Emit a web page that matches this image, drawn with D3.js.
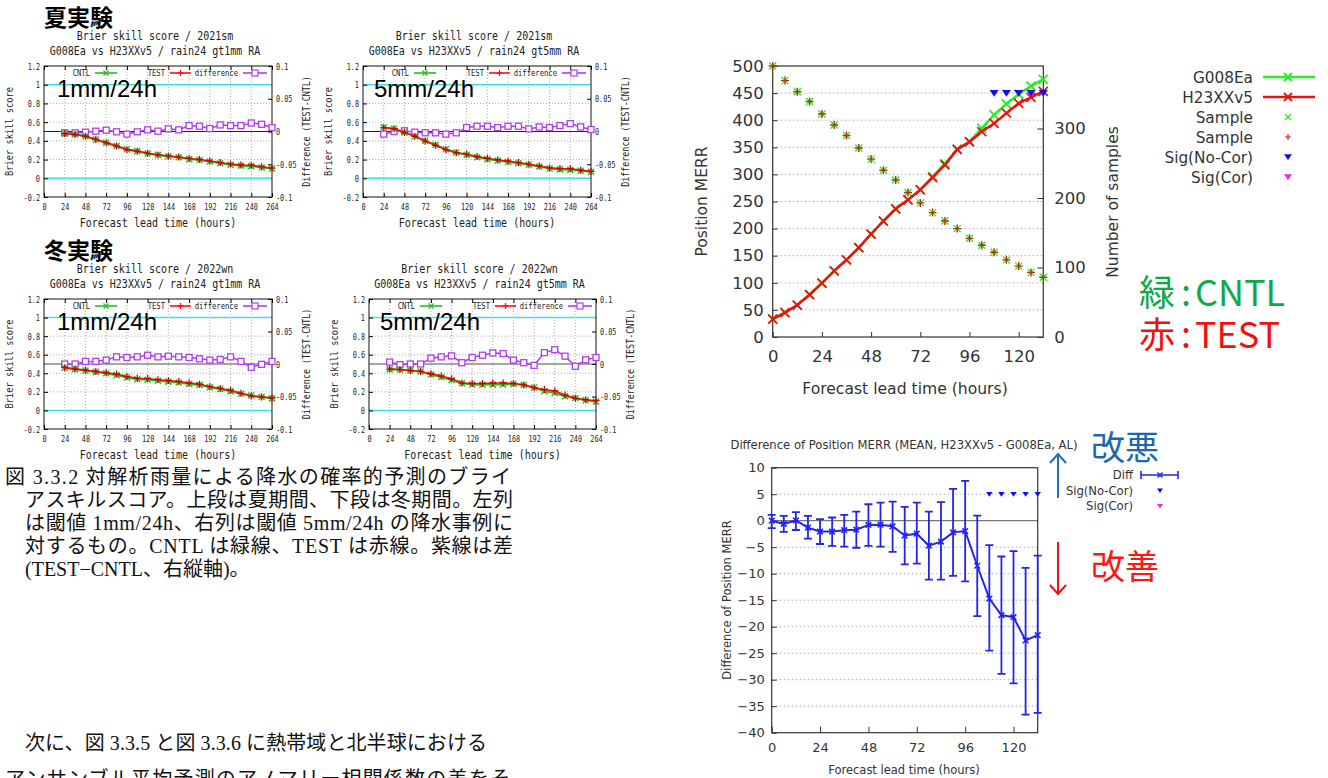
<!DOCTYPE html>
<html>
<head>
<meta charset="utf-8">
<script src="https://cdn.jsdelivr.net/npm/d3@7"></script>
<style>
  body { margin: 0; background: #fff; }
  svg { display: block; }
</style>
</head>
<body>
<svg id="fig" width="1328" height="778"></svg>
<script>
// ---------- data: Brier skill score panels ----------
const bssHours = [24, 36, 48, 60, 72, 84, 96, 108, 120, 132, 144, 156, 168, 180, 192, 204, 216, 228, 240, 252, 264];
const bssTicksX = [0, 24, 48, 72, 96, 120, 144, 168, 192, 216, 240, 264];
const bssTicksLeft = [-0.2, 0, 0.2, 0.4, 0.6, 0.8, 1, 1.2];
const bssTicksRight = [-0.1, -0.05, 0, 0.05, 0.1];

const sm1Cntl = [0.48, 0.47, 0.45, 0.415, 0.38, 0.345, 0.31, 0.29, 0.265, 0.25, 0.235, 0.225, 0.205, 0.195, 0.18, 0.16, 0.145, 0.135, 0.13, 0.115, 0.105];
const sm1Test = [0.478, 0.468, 0.449, 0.415, 0.38, 0.345, 0.306, 0.29, 0.267, 0.25, 0.239, 0.227, 0.212, 0.201, 0.184, 0.168, 0.152, 0.142, 0.14, 0.124, 0.109];
const sm1Diff = [-0.002, -0.002, -0.001, 0.0005, 0.002, -0.0005, -0.004, -0.0005, 0.0025, 0.0005, 0.004, 0.0025, 0.009, 0.008, 0.0045, 0.01, 0.009, 0.009, 0.013, 0.011, 0.006];

const sm5Cntl = [0.545, 0.53, 0.49, 0.45, 0.4, 0.355, 0.31, 0.275, 0.25, 0.225, 0.205, 0.19, 0.175, 0.16, 0.145, 0.125, 0.105, 0.095, 0.09, 0.08, 0.07];
const sm5Test = [0.541, 0.53, 0.491, 0.449, 0.398, 0.353, 0.306, 0.273, 0.256, 0.233, 0.213, 0.196, 0.183, 0.168, 0.149, 0.132, 0.111, 0.104, 0.102, 0.087, 0.073];
const sm5Diff = [-0.004, 0, 0.001, -0.001, -0.002, -0.002, -0.004, -0.002, 0.006, 0.008, 0.008, 0.006, 0.008, 0.008, 0.004, 0.007, 0.006, 0.009, 0.012, 0.007, 0.003];

const wn1Cntl = [0.46, 0.445, 0.43, 0.415, 0.4, 0.38, 0.355, 0.335, 0.33, 0.32, 0.31, 0.3, 0.285, 0.275, 0.25, 0.23, 0.205, 0.18, 0.16, 0.145, 0.13];
const wn1Test = [0.46, 0.445, 0.434, 0.419, 0.406, 0.391, 0.365, 0.346, 0.343, 0.331, 0.322, 0.311, 0.295, 0.283, 0.256, 0.237, 0.216, 0.184, 0.155, 0.145, 0.134];
const wn1Diff = [0, 0, 0.004, 0.004, 0.006, 0.011, 0.01, 0.011, 0.0135, 0.011, 0.012, 0.011, 0.01, 0.008, 0.006, 0.007, 0.011, 0.004, -0.005, -0.0005, 0.004];

const wn5Cntl = [0.442, 0.441, 0.43, 0.42, 0.386, 0.359, 0.328, 0.293, 0.28, 0.277, 0.278, 0.279, 0.284, 0.273, 0.247, 0.208, 0.188, 0.153, 0.134, 0.109, 0.095];
const wn5Test = [0.445, 0.44, 0.43, 0.42, 0.395, 0.37, 0.34, 0.295, 0.29, 0.29, 0.295, 0.295, 0.29, 0.275, 0.245, 0.225, 0.21, 0.165, 0.13, 0.115, 0.105];
const wn5Diff = [0.003, -0.001, 0, 0, 0.009, 0.011, 0.0125, 0.002, 0.01, 0.0135, 0.017, 0.016, 0.006, 0.002, -0.002, 0.0175, 0.022, 0.012, -0.0035, 0.0065, 0.01];

// ---------- data: typhoon track panels ----------
const trackHours = [0, 6, 12, 18, 24, 30, 36, 42, 48, 54, 60, 66, 72, 78, 84, 90, 96, 102, 108, 114, 120, 126, 132];
const trackTicksX = [0, 24, 48, 72, 96, 120];
const merrTicks = [0, 50, 100, 150, 200, 250, 300, 350, 400, 450, 500];
const sampleTicks = [0, 100, 200, 300];
const diffTicks = [-40, -35, -30, -25, -20, -15, -10, -5, 0, 5, 10];

const merrCntl = [33, 45, 59, 78, 99.5, 122, 142.5, 165, 190, 214, 236.5, 253, 272, 296, 320, 346, 360.5, 385, 410, 430, 448, 463, 475.5];
const merrTest = [33, 45, 59, 78, 99.5, 122, 142.5, 165, 190, 214, 236.5, 253, 271.5, 294, 317.5, 346, 360, 379, 394, 413, 431, 442, 453];
const sampleCount = [390, 369, 353, 339, 321, 305, 290, 272, 256, 240, 226, 208, 193, 179, 167, 156, 142, 132, 122, 111, 102, 93, 86];
const sigNoCorHours = [108, 114, 120, 126, 132];
const sigLevelMerr = 450;
const sigLevelDiff = 5;

const diffMean = [0, -0.6, 0.05, -1.3, -2.05, -2.05, -1.8, -1.7, -0.8, -0.75, -1.05, -2.8, -2.45, -4.7, -3.95, -2.2, -1.95, -8.5, -14.7, -17.8, -18.2, -22.6, -21.6];
const diffHigh = [1.1, 0.9, 1.6, 0.9, 0.3, 0.6, 1.1, 1.7, 3.1, 3.4, 3.6, 2.6, 3.4, 1.7, 3.5, 6.0, 7.5, 0.95, -4.6, -6.75, -5.75, -8.9, -6.6];
const diffLow = [-1.4, -2.1, -1.75, -3.4, -4.4, -4.75, -4.9, -5.1, -4.75, -4.9, -5.9, -8.25, -8.1, -11.1, -11.1, -10.4, -11.45, -18, -24.5, -28.9, -30.7, -36.6, -36.25];

const captionLines = [
  "図 3.3.2 対解析雨量による降水の確率的予測のブライ",
  "アスキルスコア。上段は夏期間、下段は冬期間。左列",
  "は閾値 1mm/24h、右列は閾値 5mm/24h の降水事例に",
  "対するもの。CNTL は緑線、TEST は赤線。紫線は差",
  "(TEST−CNTL、右縦軸)。"
];
const bodyLines = [
  "次に、図 3.3.5 と図 3.3.6 に熱帯域と北半球における",
  "アンサンブル平均予測のアノマリー相関係数の差をそ"
];

// ---------- helpers ----------
const svg = d3.select("#fig");
const GREEN_S = "#22c022", RED = "#ff1010", PURPLE = "#b03cf0", CYAN = "#40e0e0";
const MONO = "'DejaVu Sans Mono', monospace";
const SANS = "'DejaVu Sans', sans-serif";
const JP = "'Noto Sans CJK JP', sans-serif";

function xMark(g, cx, cy, s, color, w) {
  g.append("path")
    .attr("d", `M${cx - s},${cy - s}L${cx + s},${cy + s}M${cx - s},${cy + s}L${cx + s},${cy - s}`)
    .attr("stroke", color).attr("stroke-width", w).attr("fill", "none");
}
function plusMark(g, cx, cy, s, color, w) {
  g.append("path")
    .attr("d", `M${cx - s},${cy}L${cx + s},${cy}M${cx},${cy - s}L${cx},${cy + s}`)
    .attr("stroke", color).attr("stroke-width", w).attr("fill", "none");
}
function triDown(g, cx, cy, s, color) {
  g.append("path")
    .attr("d", `M${cx - s},${cy - s * 0.7}L${cx + s},${cy - s * 0.7}L${cx},${cy + s * 0.8}Z`)
    .attr("fill", color);
}
// gnuplot's font is a narrow one: squeeze the glyphs horizontally
function squeeze(sel, k) {
  sel.each(function () {
    const len = this.getComputedTextLength();
    d3.select(this).attr("textLength", len * k).attr("lengthAdjust", "spacingAndGlyphs");
  });
}
const fmt = v => String(+v.toFixed(2));

// ---------- Brier skill score panel ----------
function drawBss(cfg) {
  const x = d3.scaleLinear().domain([0, 264]).range([cfg.left, cfg.right]);
  const y = d3.scaleLinear().domain([-0.2, 1.2]).range([cfg.bottom, cfg.top]);
  const yd = d3.scaleLinear().domain([-0.1, 0.1]).range([cfg.bottom, cfg.top]);
  const g = svg.append("g");

  // dotted grid
  g.append("g").selectAll("line").data(bssTicksX.slice(1, -1)).join("line")
    .attr("x1", d => x(d)).attr("x2", d => x(d)).attr("y1", cfg.top).attr("y2", cfg.bottom)
    .attr("stroke", "#999").attr("stroke-dasharray", "1,2").attr("stroke-width", 0.8);
  g.append("g").selectAll("line").data(bssTicksLeft.slice(1, -1)).join("line")
    .attr("x1", cfg.left).attr("x2", cfg.right).attr("y1", d => y(d)).attr("y2", d => y(d))
    .attr("stroke", "#999").attr("stroke-dasharray", "1,2").attr("stroke-width", 0.8);

  // reference lines
  [0, 1].forEach(v => g.append("line")
    .attr("x1", cfg.left).attr("x2", cfg.right).attr("y1", y(v)).attr("y2", y(v))
    .attr("stroke", CYAN).attr("stroke-width", 1.5));
  g.append("line")
    .attr("x1", cfg.left).attr("x2", cfg.right).attr("y1", yd(0)).attr("y2", yd(0))
    .attr("stroke", cfg.zeroColor).attr("stroke-width", cfg.zeroWidth);

  // axes
  const axL = g.append("g").attr("transform", `translate(${cfg.left},0)`)
    .call(d3.axisLeft(y).tickValues(bssTicksLeft).tickSize(-4).tickPadding(4).tickFormat(fmt));
  const axR = g.append("g").attr("transform", `translate(${cfg.right},0)`)
    .call(d3.axisRight(yd).tickValues(bssTicksRight).tickSize(-4).tickPadding(4).tickFormat(fmt));
  const axB = g.append("g").attr("transform", `translate(0,${cfg.bottom})`)
    .call(d3.axisBottom(x).tickValues(bssTicksX).tickSize(-4).tickPadding(6));
  const axT = g.append("g").attr("transform", `translate(0,${cfg.top})`)
    .call(d3.axisTop(x).tickValues(bssTicksX).tickSize(-4).tickFormat(""));
  [axL, axR, axB, axT].forEach(a => {
    a.select(".domain").remove();
    const t = a.selectAll("text").attr("font-family", MONO).attr("font-size", 9.5).attr("fill", "#222");
    squeeze(t, 0.72);
  });
  g.append("rect").attr("x", cfg.left).attr("y", cfg.top)
    .attr("width", cfg.right - cfg.left).attr("height", cfg.bottom - cfg.top)
    .attr("fill", "none").attr("stroke", "#111").attr("stroke-width", 1);

  // series
  const lineL = vals => d3.line().x((d, i) => x(bssHours[i])).y(d => y(d))(vals);
  const lineD = vals => d3.line().x((d, i) => x(bssHours[i])).y(d => yd(d))(vals);
  g.append("path").attr("d", lineD(cfg.diff)).attr("fill", "none").attr("stroke", PURPLE).attr("stroke-width", 1.5);
  cfg.diff.forEach((d, i) => g.append("rect")
    .attr("x", x(bssHours[i]) - 3).attr("y", yd(d) - 3).attr("width", 6).attr("height", 6)
    .attr("fill", "#fff").attr("stroke", PURPLE).attr("stroke-width", 1.3));
  g.append("path").attr("d", lineL(cfg.cntl)).attr("fill", "none").attr("stroke", GREEN_S).attr("stroke-width", 2);
  cfg.cntl.forEach((d, i) => xMark(g, x(bssHours[i]), y(d), 3, GREEN_S, 1.5));
  g.append("path").attr("d", lineL(cfg.test)).attr("fill", "none").attr("stroke", RED).attr("stroke-width", 1.6);
  cfg.test.forEach((d, i) => plusMark(g, x(bssHours[i]), y(d), 3.5, "#cc0000", 1.3));

  // in-plot legend
  const ly = cfg.top + 7;
  const lg = g.append("g").attr("font-family", MONO).attr("font-size", 9).attr("fill", "#222");
  [["CNTL", 46, 51, 73, GREEN_S], ["TEST", 121, 126, 147, RED], ["difference", 194, 199, 223, PURPLE]]
    .forEach(([t, te, l0, l1, c], k) => {
      squeeze(lg.append("text").attr("x", cfg.left + te).attr("y", ly + 3).attr("text-anchor", "end").text(t), 0.8);
      lg.append("line").attr("x1", cfg.left + l0).attr("x2", cfg.left + l1).attr("y1", ly).attr("y2", ly)
        .attr("stroke", c).attr("stroke-width", 1.6);
      const mx = cfg.left + (l0 + l1) / 2;
      if (k === 0) xMark(lg, mx, ly, 2.5, c, 1.4);
      if (k === 1) plusMark(lg, mx, ly, 3, c, 1.3);
      if (k === 2) lg.append("rect").attr("x", mx - 3).attr("y", ly - 3).attr("width", 6).attr("height", 6)
        .attr("fill", "#fff").attr("stroke", c).attr("stroke-width", 1.2);
    });

  // titles and labels
  const cx = (cfg.left + cfg.right) / 2 - 3;
  const txt = (s, k) => squeeze(s.attr("font-family", MONO).attr("fill", "#222"), k);
  txt(g.append("text").attr("x", cx).attr("y", cfg.top - 26).attr("text-anchor", "middle")
    .attr("font-size", 12.5).text(cfg.title1), 0.8);
  txt(g.append("text").attr("x", cx).attr("y", cfg.top - 11).attr("text-anchor", "middle")
    .attr("font-size", 12.5).text(cfg.title2), 0.8);
  txt(g.append("text").attr("x", (cfg.left + cfg.right) / 2).attr("y", cfg.bottom + 30).attr("text-anchor", "middle")
    .attr("font-size", 13).text("Forecast lead time (hours)"), 0.77);
  txt(g.append("text").attr("transform", `translate(${cfg.left - 31},${(cfg.top + cfg.bottom) / 2}) rotate(-90)`)
    .attr("text-anchor", "middle").attr("font-size", 11).text("Brier skill score"), 0.79);
  txt(g.append("text").attr("transform", `translate(${cfg.right + 38},${(cfg.top + cfg.bottom) / 2}) rotate(-90)`)
    .attr("text-anchor", "middle").attr("font-size", 11).text("Difference (TEST-CNTL)"), 0.76);
  g.append("text").attr("x", cfg.thrX).attr("y", cfg.top + 31)
    .attr("font-family", "'Liberation Sans', Arial, sans-serif").attr("font-size", 24).attr("fill", "#000")
    .text(cfg.thr);
}

drawBss({ left: 44, right: 272, top: 66, bottom: 197, cntl: sm1Cntl, test: sm1Test, diff: sm1Diff,
  title1: "Brier skill score / 2021sm", title2: "G008Ea vs H23XXv5 / rain24 gt1mm RA",
  thr: "1mm/24h", thrX: 57, zeroColor: "#222", zeroWidth: 1.2 });
drawBss({ left: 363, right: 591, top: 66, bottom: 197, cntl: sm5Cntl, test: sm5Test, diff: sm5Diff,
  title1: "Brier skill score / 2021sm", title2: "G008Ea vs H23XXv5 / rain24 gt5mm RA",
  thr: "5mm/24h", thrX: 374, zeroColor: "#222", zeroWidth: 1.2 });
drawBss({ left: 44, right: 272, top: 299, bottom: 429, cntl: wn1Cntl, test: wn1Test, diff: wn1Diff,
  title1: "Brier skill score / 2022wn", title2: "G008Ea vs H23XXv5 / rain24 gt1mm RA",
  thr: "1mm/24h", thrX: 57, zeroColor: "#888", zeroWidth: 1.6 });
drawBss({ left: 369, right: 596, top: 299, bottom: 429, cntl: wn5Cntl, test: wn5Test, diff: wn5Diff,
  title1: "Brier skill score / 2022wn", title2: "G008Ea vs H23XXv5 / rain24 gt5mm RA",
  thr: "5mm/24h", thrX: 380, zeroColor: "#888", zeroWidth: 1.6 });

// section labels
svg.append("text").attr("x", 44).attr("y", 26).attr("font-family", JP).attr("font-weight", 700)
  .attr("font-size", 23).text("夏実験");
svg.append("text").attr("x", 44).attr("y", 259).attr("font-family", JP).attr("font-weight", 700)
  .attr("font-size", 23).text("冬実験");

// caption and body text
const SERIF = "'Liberation Serif', 'Noto Sans CJK JP', serif";
const capW = [506, 488, 488, 488, null];
const capX = [5, 25, 25, 25, 25];
captionLines.forEach((t, i) => {
  const tx = svg.append("text").attr("x", capX[i]).attr("y", 484 + i * 23)
    .attr("font-family", SERIF).attr("font-size", 20).attr("fill", "#111").text(t);
  if (capW[i]) tx.attr("textLength", capW[i]).attr("lengthAdjust", "spacing");
});
svg.append("text").attr("x", 25).attr("y", 750).attr("font-family", SERIF).attr("font-size", 20)
  .attr("fill", "#111").attr("textLength", 462).attr("lengthAdjust", "spacing").text(bodyLines[0]);
svg.append("text").attr("x", 5).attr("y", 786).attr("font-family", SERIF).attr("font-size", 20)
  .attr("fill", "#111").attr("textLength", 505).attr("lengthAdjust", "spacing").text(bodyLines[1]);

// ---------- Position MERR panel ----------
(function () {
  const L = 772.7, R = 1043.3, T = 66, B = 337;
  const x = d3.scaleLinear().domain([0, 132]).range([L, R]);
  const y = d3.scaleLinear().domain([0, 500]).range([B, T]);
  const ys = d3.scaleLinear().domain([0, 390]).range([B, T]);
  const g = svg.append("g");
  const TXT = "#333", GREEN = "#22ee22", RED2 = "#ee1111";

  g.append("g").selectAll("line").data(merrTicks.slice(1, -1)).join("line")
    .attr("x1", L).attr("x2", R).attr("y1", d => y(d)).attr("y2", d => y(d))
    .attr("stroke", "#aaa").attr("stroke-dasharray", "1.5,2.5");

  const axL = g.append("g").attr("transform", `translate(${L},0)`)
    .call(d3.axisLeft(y).tickValues(merrTicks).tickSize(-5).tickPadding(9));
  const axB = g.append("g").attr("transform", `translate(0,${B})`)
    .call(d3.axisBottom(x).tickValues(trackTicksX).tickSize(-5).tickPadding(13));
  const axR = g.append("g").attr("transform", `translate(${R},0)`)
    .call(d3.axisRight(ys).tickValues(sampleTicks).tickSize(-6).tickPadding(11));
  [axL, axB, axR].forEach(a => {
    a.select(".domain").remove();
    a.selectAll("line").attr("stroke", "#333");
    a.selectAll("text").attr("font-family", SANS).attr("font-size", 16.5).attr("fill", TXT);
  });
  g.append("rect").attr("x", L).attr("y", T).attr("width", R - L).attr("height", B - T)
    .attr("fill", "none").attr("stroke", "#333").attr("stroke-width", 1.2);

  // samples
  sampleCount.forEach((d, i) => {
    xMark(g, x(trackHours[i]), ys(d), 3.5, GREEN, 1.3);
    plusMark(g, x(trackHours[i]), ys(d), 4, "#b03010", 1.4);
  });
  // lines
  const ln = vals => d3.line().x((d, i) => x(trackHours[i])).y(d => y(d))(vals);
  g.append("path").attr("d", ln(merrCntl)).attr("fill", "none").attr("stroke", GREEN).attr("stroke-width", 2.5);
  merrCntl.forEach((d, i) => xMark(g, x(trackHours[i]), y(d), 4.5, GREEN, 1.8));
  g.append("path").attr("d", ln(merrTest)).attr("fill", "none").attr("stroke", RED2).attr("stroke-width", 2.5);
  merrTest.forEach((d, i) => xMark(g, x(trackHours[i]), y(d), 4.5, RED2, 1.8));
  sigNoCorHours.forEach(h => triDown(g, x(h), y(sigLevelMerr), 4.5, "#1010e0"));

  // labels
  g.append("text").attr("transform", `translate(${707},${(T + B) / 2}) rotate(-90)`)
    .attr("text-anchor", "middle").attr("font-family", SANS).attr("font-size", 15.5).attr("fill", TXT)
    .text("Position MERR");
  g.append("text").attr("transform", `translate(${1118},${202}) rotate(-90)`)
    .attr("text-anchor", "middle").attr("font-family", SANS).attr("font-size", 15.5).attr("fill", TXT)
    .text("Number of samples");
  g.append("text").attr("x", (L + R) / 2 - 3).attr("y", 394).attr("text-anchor", "middle")
    .attr("font-family", SANS).attr("font-size", 15.6).attr("fill", TXT).text("Forecast lead time (hours)");

  // legend
  const lx = 1253, mx = 1288;
  const lg = g.append("g").attr("font-family", SANS).attr("font-size", 15.3).attr("fill", TXT);
  const items = ["G008Ea", "H23XXv5", "Sample", "Sample", "Sig(No-Cor)", "Sig(Cor)"];
  items.forEach((t, k) => {
    const ly = 77 + k * 20;
    lg.append("text").attr("x", lx).attr("y", ly + 5.5).attr("text-anchor", "end").text(t);
    if (k === 0 || k === 1) {
      const c = k === 0 ? GREEN : RED2;
      lg.append("line").attr("x1", 1263).attr("x2", 1315).attr("y1", ly).attr("y2", ly)
        .attr("stroke", c).attr("stroke-width", 2.5);
      xMark(lg, mx, ly, 4, c, 1.8);
    }
    if (k === 2) xMark(lg, mx, ly, 3, GREEN, 1.2);
    if (k === 3) plusMark(lg, mx, ly, 3, RED2, 1.2);
    if (k === 4) triDown(lg, mx, ly, 4, "#1010e0");
    if (k === 5) triDown(lg, mx, ly, 4, "#ee22ee");
  });

  // colour key, laid out as separate pieces
  [["緑", "CNTL", "#10a84c", 306], ["赤", "TEST", "#f01010", 348]].forEach(([k, w, c, by]) => {
    const t = svg.append("text").attr("y", by).attr("font-family", JP).attr("font-size", 36).attr("fill", c);
    t.append("tspan").attr("x", 1139).text(k);
    t.append("tspan").attr("x", 1181).text(":");
    t.append("tspan").attr("x", 1195).text(w);
  });
})();

// ---------- Difference panel ----------
(function () {
  const L = 771.7, R = 1037.7, T = 467.7, B = 732.7;
  const x = d3.scaleLinear().domain([0, 132]).range([L, R]);
  const y = d3.scaleLinear().domain([-40, 10]).range([B, T]);
  const g = svg.append("g");
  const TXT = "#333", BLUE = "#2424ee";

  g.append("g").selectAll("line").data(diffTicks.filter(d => d !== -40 && d !== 10 && d !== 0)).join("line")
    .attr("x1", L).attr("x2", R).attr("y1", d => y(d)).attr("y2", d => y(d))
    .attr("stroke", "#aaa").attr("stroke-dasharray", "1.5,2.5");
  g.append("line").attr("x1", L).attr("x2", R).attr("y1", y(0)).attr("y2", y(0))
    .attr("stroke", "#777").attr("stroke-width", 1.2);

  const axL = g.append("g").attr("transform", `translate(${L},0)`)
    .call(d3.axisLeft(y).tickValues(diffTicks).tickSize(-5).tickPadding(7));
  const axB = g.append("g").attr("transform", `translate(0,${B})`)
    .call(d3.axisBottom(x).tickValues(trackTicksX).tickSize(-6).tickPadding(10));
  [axL, axB].forEach(a => {
    a.select(".domain").remove();
    a.selectAll("line").attr("stroke", "#333");
    a.selectAll("text").attr("font-family", SANS).attr("font-size", 13).attr("fill", TXT);
  });
  g.append("rect").attr("x", L).attr("y", T).attr("width", R - L).attr("height", B - T)
    .attr("fill", "none").attr("stroke", "#333").attr("stroke-width", 1.2);

  // error bars
  diffMean.forEach((d, i) => {
    const cx = x(trackHours[i]);
    g.append("path")
      .attr("d", `M${cx},${y(diffHigh[i])}L${cx},${y(diffLow[i])}` +
        `M${cx - 4},${y(diffHigh[i])}L${cx + 4},${y(diffHigh[i])}` +
        `M${cx - 4},${y(diffLow[i])}L${cx + 4},${y(diffLow[i])}`)
      .attr("stroke", BLUE).attr("stroke-width", 1.8).attr("fill", "none");
  });
  g.append("path").attr("d", d3.line().x((d, i) => x(trackHours[i])).y(d => y(d))(diffMean))
    .attr("fill", "none").attr("stroke", BLUE).attr("stroke-width", 2);
  diffMean.forEach((d, i) => xMark(g, x(trackHours[i]), y(d), 2.8, BLUE, 1.6));
  sigNoCorHours.forEach(h => triDown(g, x(h), y(sigLevelDiff), 3.2, "#1010e0"));

  g.append("text").attr("x", 904).attr("y", 449).attr("text-anchor", "middle")
    .attr("font-family", SANS).attr("font-size", 11.6).attr("fill", TXT)
    .text("Difference of Position MERR (MEAN, H23XXv5 - G008Ea, AL)");
  g.append("text").attr("transform", `translate(${731},${600}) rotate(-90)`)
    .attr("text-anchor", "middle").attr("font-family", SANS).attr("font-size", 11.5).attr("fill", TXT)
    .text("Difference of Position MERR");
  g.append("text").attr("x", 904).attr("y", 774).attr("text-anchor", "middle")
    .attr("font-family", SANS).attr("font-size", 11.5).attr("fill", TXT).text("Forecast lead time (hours)");

  // legend
  const lg = g.append("g").attr("font-family", SANS).attr("font-size", 11.6).attr("fill", TXT);
  ["Diff", "Sig(No-Cor)", "Sig(Cor)"].forEach((t, k) => {
    const ly = 475 + k * 15.5;
    lg.append("text").attr("x", 1133).attr("y", ly + 4).attr("text-anchor", "end").text(t);
  });
  lg.append("path").attr("d", "M1141,475L1178,475M1141,471L1141,479M1178,471L1178,479")
    .attr("stroke", BLUE).attr("stroke-width", 1.6).attr("fill", "none");
  xMark(lg, 1160, 475, 2.5, BLUE, 1.5);
  triDown(lg, 1160, 490.5, 3, "#1010e0");
  triDown(lg, 1160, 506, 3, "#ee22ee");

  // annotations
  svg.append("path").attr("d", "M1058,498L1058,454M1050,463L1058,454L1066,463")
    .attr("stroke", "#1f6fb4").attr("stroke-width", 2).attr("fill", "none");
  svg.append("text").attr("x", 1091).attr("y", 460).attr("font-family", JP).attr("font-size", 34)
    .attr("fill", "#1a68b0").text("改悪");
  svg.append("path").attr("d", "M1058,542L1058,594M1050,585L1058,594L1066,585")
    .attr("stroke", "#ee1111").attr("stroke-width", 2).attr("fill", "none");
  svg.append("text").attr("x", 1091).attr("y", 579).attr("font-family", JP).attr("font-size", 34)
    .attr("fill", "#ff1515").text("改善");
})();
</script>
</body>
</html>
